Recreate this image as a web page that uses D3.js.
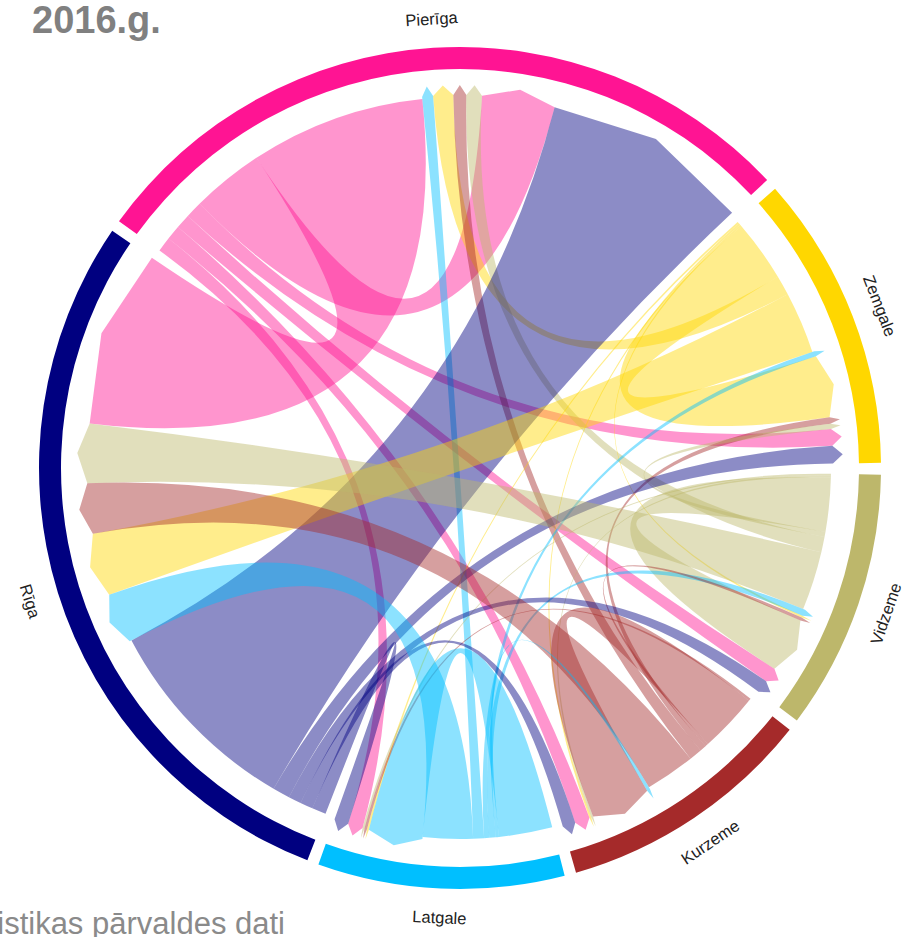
<!DOCTYPE html>
<html><head><meta charset="utf-8">
<script src="https://cdn.jsdelivr.net/npm/d3@7"></script>
<style>body{margin:0;background:#fff} svg{display:block}</style>
</head><body>
<svg id="chart" width="906" height="937"></svg>
<script>
// Regions in the order they appear clockwise round the circle
const regions = ["Pierīga", "Zemgale", "Vidzeme", "Kurzeme", "Latgale", "Rīga"];
const regionColors = ["#ff1493", "#ffd700", "#bdb76b", "#a52a2a", "#00bfff", "#000080"];
// Migration flows: each array is "from" a region, columns follow `regions` ("to")
const fromPieriga = [1130, 260, 230, 230, 230, 2740];
const fromZemgale = [310, 960, 30, 30, 30, 970];
const fromVidzeme = [240, 80, 840, 30, 30, 920];
const fromKurzeme = [200, 100, 50, 920, 40, 780];
const fromLatgale = [170, 80, 100, 50, 835, 780];
const fromRiga    = [3210, 270, 200, 200, 220, 0];
// Order of ribbons inside every region arc (clockwise): outgoing first, then incoming
const outgoingOrder = ["Latgale", "Kurzeme", "Vidzeme", "Zemgale", "Pierīga", "Rīga"];
const incomingOrder = ["Latgale", "Zemgale", "Kurzeme", "Vidzeme", "Pierīga", "Rīga"];
const incomingOrderKurzeme = ["Latgale", "Kurzeme", "Vidzeme", "Zemgale", "Pierīga", "Rīga"];
const titleText = "2016.g.";
const sourceText = "Avots: Centrālās statistikas pārvaldes dati";

const matrix = [fromPieriga, fromZemgale, fromVidzeme, fromKurzeme, fromLatgale, fromRiga];
const n = regions.length;
const deg = Math.PI / 180;
const pad = 1.6 * deg;
const startAngle = -54.1 * deg;

const cx = 460, cy = 468;
const ringInner = 399, ringOuter = 421;
const ribbonSourceR = 371, ribbonTargetR = 383, headR = 10;
const labelR = 450;

const totals = regions.map((_, i) => d3.sum(matrix[i]) + d3.sum(matrix, r => r[i]));
const angle = d3.scaleLinear().domain([0, d3.sum(totals)]).range([0, 2 * Math.PI - n * pad]);

// layout
const groups = [];
const chords = {};
let x = 0;
regions.forEach((name, i) => {
  const off = startAngle + pad * i;
  const g0 = x;
  outgoingOrder.forEach(tName => {
    const j = regions.indexOf(tName);
    const v = matrix[i][j];
    if (v > 0) {
      const key = i + "-" + j;
      chords[key] = chords[key] || {};
      chords[key].source = {index: i, startAngle: off + angle(x), endAngle: off + angle(x + v), value: v};
      x += v;
    }
  });
  const inOrder = name === "Kurzeme" ? incomingOrderKurzeme : incomingOrder;
  inOrder.forEach(sName => {
    const j = regions.indexOf(sName);
    const v = matrix[j][i];
    if (v > 0) {
      const key = j + "-" + i;
      chords[key] = chords[key] || {};
      chords[key].target = {index: i, startAngle: off + angle(x), endAngle: off + angle(x + v), value: v};
      x += v;
    }
  });
  groups.push({index: i, startAngle: off + angle(g0), endAngle: off + angle(x)});
});

const svg = d3.select("#chart");
const g = svg.append("g").attr("transform", `translate(${cx},${cy})`);

const ribbon = d3.ribbonArrow()
  .sourceRadius(ribbonSourceR)
  .targetRadius(ribbonTargetR)
  .headRadius(headR);

g.append("g").selectAll("path")
  .data(Object.values(chords))
  .join("path")
  .attr("d", ribbon)
  .attr("fill", d => regionColors[d.source.index])
  .attr("fill-opacity", 0.45);

const arc = d3.arc().innerRadius(ringInner).outerRadius(ringOuter);
g.append("g").selectAll("path")
  .data(groups)
  .join("path")
  .attr("d", arc)
  .attr("fill", d => regionColors[d.index]);

g.append("g").selectAll("text")
  .data(groups)
  .join("text")
  .attr("transform", d => {
    const a = (d.startAngle + d.endAngle) / 2;
    const norm = ((a / deg % 360) + 360) % 360;
    const rot = (norm > 90 && norm < 270) ? norm - 180 : norm;
    return `translate(${labelR * Math.sin(a)},${-labelR * Math.cos(a)}) rotate(${rot})`;
  })
  .attr("text-anchor", "middle")
  .attr("dy", "0.35em")
  .attr("font-family", "Liberation Sans, Arial, sans-serif")
  .attr("font-size", 16.5)
  .attr("fill", "#222")
  .text(d => regions[d.index]);

svg.append("text")
  .attr("x", 32).attr("y", 33)
  .attr("font-family", "Liberation Sans, Arial, sans-serif")
  .attr("font-weight", "bold")
  .attr("font-size", 38)
  .attr("fill", "#808080")
  .text(titleText);

svg.append("text")
  .attr("x", 285).attr("y", 934)
  .attr("text-anchor", "end")
  .attr("font-family", "Liberation Sans, Arial, sans-serif")
  .attr("font-size", 31)
  .attr("fill", "#8a8a8a")
  .text(sourceText);
</script>
</body></html>
